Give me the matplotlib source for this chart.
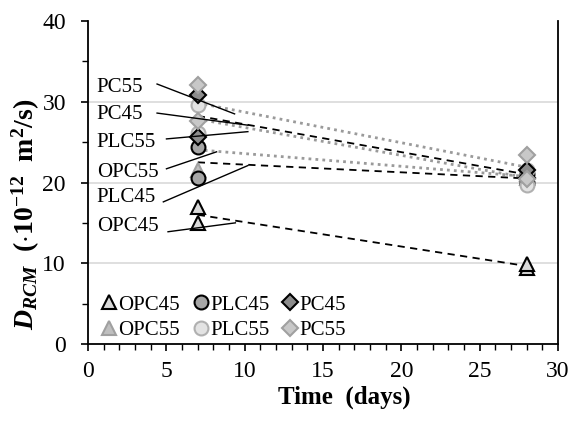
import numpy as np
import matplotlib
matplotlib.use("Agg")
import matplotlib.pyplot as plt
from matplotlib.ticker import MultipleLocator

plt.rcParams["font.family"] = ["Liberation Serif", "DejaVu Serif"]
plt.rcParams["mathtext.fontset"] = "custom"
plt.rcParams["mathtext.rm"] = "Liberation Serif:bold"
plt.rcParams["mathtext.it"] = "Liberation Serif:italic:bold"
plt.rcParams["mathtext.bf"] = "Liberation Serif:bold"

# ages (days)
days = [7, 28]

# replicate values per series at day 7 and day 28
opc45_7 = [17.0, 15.0]
opc45_28 = [9.4, 9.9]
opc55_7 = [26.5, 21.6]
opc55_28 = [20.5, 21.0]
plc45_7 = [24.4, 20.6]
plc45_28 = [20.0, 21.0]
plc55_7 = [29.6, 26.1]
plc55_28 = [19.7, 21.5]
pc45_7 = [30.9, 25.6]
pc45_28 = [20.5, 21.5]
pc55_7 = [32.1, 27.6]
pc55_28 = [23.4, 20.4]

names = ["OPC45", "OPC55", "PLC45", "PLC55", "PC45", "PC55"]
data = {
    "OPC45": (opc45_7, opc45_28),
    "OPC55": (opc55_7, opc55_28),
    "PLC45": (plc45_7, plc45_28),
    "PLC55": (plc55_7, plc55_28),
    "PC45": (pc45_7, pc45_28),
    "PC55": (pc55_7, pc55_28),
}

grid_levels = [10, 20, 30]

# label text positions and leader line ends (x0, y0, x1, y1)
label_names = ["PC55", "PC45", "PLC55", "OPC55", "PLC45", "OPC45"]
label_xy = [(0.55, 31.8), (0.55, 28.4), (0.55, 24.9), (0.55, 21.2), (0.55, 18.1), (0.55, 14.5)]
leaders = [
    (4.4, 32.2, 9.35, 28.5),
    (4.4, 28.6, 10.2, 27.1),
    (5.0, 25.4, 10.2, 26.3),
    (5.0, 21.7, 8.2, 23.8),
    (4.8, 17.6, 10.2, 22.1),
    (5.1, 13.9, 9.4, 15.0),
]

styles = {
    "OPC45": dict(marker="^", mfc="#d9d9d9", mec="black", ms=10),
    "OPC55": dict(marker="^", mfc="#bfbfbf", mec="#a0a0a0", ms=10),
    "PLC45": dict(marker="o", mfc="#a6a6a6", mec="black", ms=10),
    "PLC55": dict(marker="o", mfc="#e3e3e3", mec="#b0b0b0", ms=10),
    "PC45": dict(marker="D", mfc="#8c8c8c", mec="black", ms=8),
    "PC55": dict(marker="D", mfc="#c8c8c8", mec="#a0a0a0", ms=8),
}

fig = plt.figure(figsize=(5.8, 4.21), dpi=100)
ax = fig.add_axes([0.152, 0.183, 0.81, 0.767])

for g in grid_levels:
    ax.axhline(g, color="#d9d9d9", lw=1.2, zorder=0)

# mean trend lines
for n in names:
    d7, d28 = data[n]
    means = [np.mean(d7), np.mean(d28)]
    if n.endswith("45"):
        ax.plot(days, means, color="black", lw=1.3, ls=(0, (4, 3)), zorder=2)
    else:
        ax.plot(days, means, color="#9a9a9a", lw=2.0, ls=(0, (1, 1.5)), zorder=2)

handles = []
for n in names:
    d7, d28 = data[n]
    xs = [days[0]] * len(d7) + [days[1]] * len(d28)
    ys = list(d7) + list(d28)
    h, = ax.plot(xs, ys, ls="none", mew=1.5, label=n, zorder=3, **styles[n])
    handles.append(h)

for name, (tx, ty), (x0, y0, x1, y1) in zip(label_names, label_xy, leaders):
    ax.text(tx, ty, name, fontsize=15, va="center", ha="left")
    ax.plot([x0, x1], [y0, y1], color="black", lw=1.0, zorder=4)

ax.set_xlim(0, 30)
ax.set_ylim(0, 40)
ax.xaxis.set_major_locator(MultipleLocator(5))
ax.xaxis.set_minor_locator(MultipleLocator(1))
ax.yaxis.set_major_locator(MultipleLocator(10))
ax.yaxis.set_minor_locator(MultipleLocator(5))
ax.tick_params(which="major", direction="out", length=5, width=1.2, labelsize=17)
ax.tick_params(which="minor", direction="out", length=4, width=1.0)
ax.tick_params(axis="x", which="major", pad=7)
ax.tick_params(axis="y", which="major", pad=11)
for s in ["left", "bottom", "right"]:
    ax.spines[s].set_linewidth(1.3)
ax.spines["top"].set_visible(False)

ax.set_xlabel("Time  (days)", fontsize=18, fontweight="bold")
ax.xaxis.set_label_coords(0.545, -0.128)
ax.set_ylabel(r"$\mathit{D}_{\mathit{RCM}}\ \ \mathbf{(\cdot 10^{-12}\ \ m^{2}/s)}$",
              fontsize=20)
ax.yaxis.set_label_coords(-0.098, 0.40)

ax.legend(handles=handles, ncol=3, loc="lower left", bbox_to_anchor=(0.009, -0.015),
          frameon=False, fontsize=15, handlelength=0.8, handletextpad=0.05,
          columnspacing=0.6, labelspacing=0.3, borderaxespad=0.0)

fig.savefig("out.png", dpi=100)
